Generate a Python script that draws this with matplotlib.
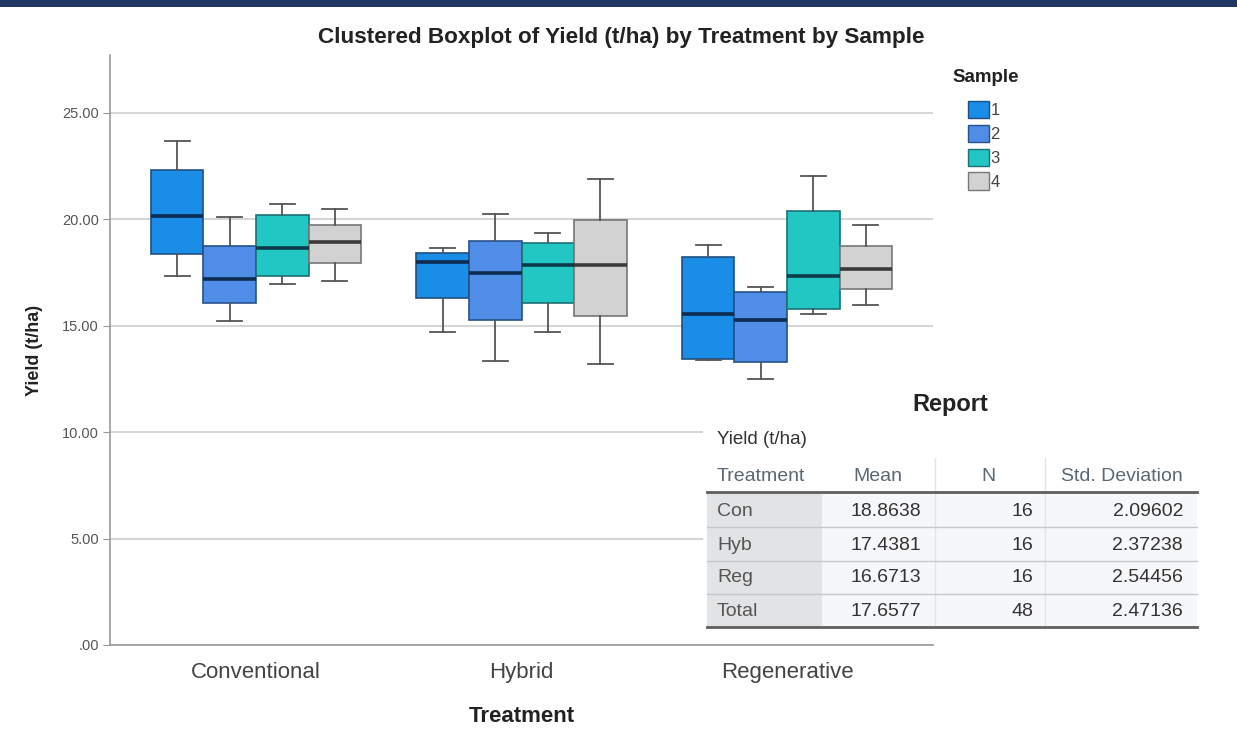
import matplotlib
matplotlib.use("Agg")
import matplotlib.pyplot as plt
from matplotlib.patches import Patch, Rectangle
from matplotlib.lines import Line2D

plt.rcParams['font.family'] = ['Liberation Sans', 'DejaVu Sans']

# ---------------- data ----------------
groups = ['Conventional', 'Hybrid', 'Regenerative']
samples = ['1', '2', '3', '4']

# per-sample box statistics, one value per treatment group
s1_med = [20.15, 17.98, 15.55]
s1_q1 = [18.36, 16.31, 13.41]
s1_q3 = [22.30, 18.39, 18.22]
s1_lo = [17.34, 14.68, 13.37]
s1_hi = [23.68, 18.62, 18.77]

s2_med = [17.17, 17.45, 15.26]
s2_q1 = [16.06, 15.27, 13.30]
s2_q3 = [18.73, 18.98, 16.57]
s2_lo = [15.20, 13.35, 12.50]
s2_hi = [20.08, 20.22, 16.82]

s3_med = [18.65, 17.83, 17.34]
s3_q1 = [17.31, 16.04, 15.79]
s3_q3 = [20.17, 18.86, 20.38]
s3_lo = [16.95, 14.69, 15.55]
s3_hi = [20.72, 19.36, 22.03]

s4_med = [18.91, 17.83, 17.65]
s4_q1 = [17.95, 15.45, 16.70]
s4_q3 = [19.70, 19.95, 18.72]
s4_lo = [17.08, 13.18, 15.96]
s4_hi = [20.45, 21.88, 19.70]

yticks = [0, 5, 10, 15, 20, 25]
ytick_labels = ['.00', '5.00', '10.00', '15.00', '20.00', '25.00']

# report table
table_title = 'Report'
table_var = 'Yield (t/ha)'
table_header = ['Treatment', 'Mean', 'N', 'Std. Deviation']
table_rows = ['Con', 'Hyb', 'Reg', 'Total']
table_mean = ['18.8638', '17.4381', '16.6713', '17.6577']
table_n = ['16', '16', '16', '48']
table_sd = ['2.09602', '2.37238', '2.54456', '2.47136']

# ---------------- styling ----------------
W, H = 1237, 747
colors = ['#1a8de6', '#4f8de6', '#22c6c2', '#d2d2d2']
edges = ['#1f4f80', '#27508a', '#1e6f73', '#777777']
medcols = ['#0c2c52', '#0c2c52', '#0c3a4a', '#3a3a3a']


def px(x, y):
    return x / W, 1 - y / H


fig = plt.figure(figsize=(W / 100, H / 100), dpi=100)
fig.patch.set_facecolor('white')
ax = fig.add_axes([110 / W, 1 - 645 / H, (933 - 110) / W, (645 - 55) / H])

stats_all = [
    (s1_med, s1_q1, s1_q3, s1_lo, s1_hi),
    (s2_med, s2_q1, s2_q3, s2_lo, s2_hi),
    (s3_med, s3_q1, s3_q3, s3_lo, s3_hi),
    (s4_med, s4_q1, s4_q3, s4_lo, s4_hi),
]
bw = 0.198
for j, (med, q1, q3, lo, hi) in enumerate(stats_all):
    stats = []
    for i in range(len(groups)):
        stats.append(dict(med=med[i], q1=q1[i], q3=q3[i],
                          whislo=lo[i], whishi=hi[i], fliers=[]))
    pos = [i + (j - 1.5) * bw for i in range(len(groups))]
    ax.bxp(stats, positions=pos, widths=bw, patch_artist=True,
           showfliers=False, capwidths=bw * 0.48, manage_ticks=False,
           boxprops=dict(facecolor=colors[j], edgecolor=edges[j], linewidth=1.2),
           medianprops=dict(color=medcols[j], linewidth=2.6),
           whiskerprops=dict(color='#555555', linewidth=1.3),
           capprops=dict(color='#555555', linewidth=1.3))

ax.set_xlim(-0.55, 2.55)
ax.set_ylim(0, 27.7)
ax.set_yticks(yticks)
ax.set_yticklabels(ytick_labels, fontsize=10.5, color='#555555')
ax.set_xticks(range(len(groups)))
ax.set_xticklabels(groups, fontsize=16, color='#444444')
ax.tick_params(axis='x', length=0, pad=12)
ax.tick_params(axis='y', length=5, color='#999999', pad=3)
ax.yaxis.grid(True, color='#d6d6d6', linewidth=1.5)
ax.set_axisbelow(True)
for s in ['top', 'right']:
    ax.spines[s].set_visible(False)
for s in ['left', 'bottom']:
    ax.spines[s].set_color('#999999')
    ax.spines[s].set_linewidth(1.2)
ax.set_xlabel('Treatment', fontsize=16, fontweight='bold', color='#222222', labelpad=17)
ax.set_ylabel('Yield (t/ha)', fontsize=13, fontweight='bold', color='#222222', labelpad=14)

# title
fig.text(*px(621, 37), 'Clustered Boxplot of Yield (t/ha) by Treatment by Sample',
         ha='center', va='center', fontsize=16.2, fontweight='bold', color='#222222')

# top band
fig.add_artist(Rectangle((0, 1 - 7 / H), 1, 7 / H, transform=fig.transFigure,
                         facecolor='#1f3864', edgecolor='none', zorder=5))

# legend
fig.text(*px(986, 77), 'Sample', ha='center', va='center', fontsize=13.5,
         fontweight='bold', color='#222222')
handles = [Patch(facecolor=c, edgecolor=e, linewidth=1) for c, e in zip(colors, edges)]
leg = fig.legend(handles, samples, loc='upper left',
                 bbox_to_anchor=(968 / W, 1 - 101 / H), frameon=False,
                 fontsize=12, handlelength=1.25, handleheight=1.2,
                 labelspacing=0.4, handletextpad=0.1, borderpad=0,
                 borderaxespad=0)
for t in leg.get_texts():
    t.set_color('#444444')

# ---------------- report table ----------------
x0, y0 = px(703, 633)
fig.add_artist(Rectangle((x0, y0), 502 / W, 245 / H, transform=fig.transFigure,
                         facecolor='white', edgecolor='none', zorder=2))
x0, y0 = px(707, 627)
fig.add_artist(Rectangle((x0, y0), 115 / W, 134 / H, transform=fig.transFigure,
                         facecolor='#e1e3e4', edgecolor='none', zorder=2))
x0, y0 = px(822, 627)
fig.add_artist(Rectangle((x0, y0), 375 / W, 134 / H, transform=fig.transFigure,
                         facecolor='#f6f7f9', edgecolor='none', zorder=2))


def hline(y, x1, x2, color, lw):
    fig.add_artist(Line2D([x1 / W, x2 / W], [1 - y / H, 1 - y / H],
                          transform=fig.transFigure, color=color, linewidth=lw, zorder=3))


def vline(x, y1, y2, color, lw):
    fig.add_artist(Line2D([x / W, x / W], [1 - y1 / H, 1 - y2 / H],
                          transform=fig.transFigure, color=color, linewidth=lw, zorder=3))


vline(935, 458, 627, '#e2e4e6', 1)
vline(1045, 458, 627, '#e2e4e6', 1)
for yy in [527, 561, 594]:
    hline(yy, 707, 1197, '#c4c8cc', 1)
hline(492, 707, 1197, '#5f5f5f', 2)
hline(627, 707, 1197, '#5f5f5f', 2)

fig.text(*px(950, 405), table_title, ha='center', va='center', fontsize=17,
         fontweight='bold', color='#222222', zorder=4)
fig.text(*px(717, 440), table_var, ha='left', va='center', fontsize=13.5,
         color='#333333', zorder=4)
hdr_col = '#5b6873'
fig.text(*px(717, 476), table_header[0], ha='left', va='center', fontsize=14, color=hdr_col, zorder=4)
fig.text(*px(878, 476), table_header[1], ha='center', va='center', fontsize=14, color=hdr_col, zorder=4)
fig.text(*px(988, 476), table_header[2], ha='center', va='center', fontsize=14, color=hdr_col, zorder=4)
fig.text(*px(1183, 476), table_header[3], ha='right', va='center', fontsize=14, color=hdr_col, zorder=4)
row_y = [511, 545, 578, 611]
for k, yy in enumerate(row_y):
    fig.text(*px(717, yy), table_rows[k], ha='left', va='center', fontsize=14, color='#555555', zorder=4)
    fig.text(*px(921, yy), table_mean[k], ha='right', va='center', fontsize=14, color='#333333', zorder=4)
    fig.text(*px(1033, yy), table_n[k], ha='right', va='center', fontsize=14, color='#333333', zorder=4)
    fig.text(*px(1183, yy), table_sd[k], ha='right', va='center', fontsize=14, color='#333333', zorder=4)

fig.savefig('out.png', dpi=100, facecolor='white')
